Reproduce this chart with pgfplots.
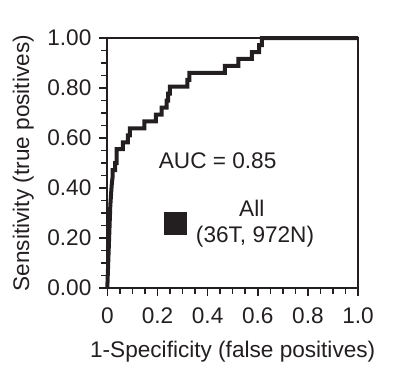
\documentclass[border=0pt]{standalone}
\usepackage{pgfplots}
\pgfplotsset{compat=1.18}
\usepackage{fontspec}
\setmainfont{Liberation Sans}
\definecolor{ink}{HTML}{231F20}
\begin{document}
\fontsize{11.3}{13.5}\selectfont
\begin{tikzpicture}
\begin{axis}[
  scale only axis,
  width=125.4pt, height=124.9pt,
  xmin=0, xmax=1, ymin=0, ymax=1,
  axis line style={ink, line width=0.8pt},
  every tick/.style={ink, line width=0.75pt},
  tick align=outside,
  xtick pos=bottom, ytick pos=left,
  xtick={0,0.2,0.4,0.6,0.8,1},
  xticklabels={0,0.2,0.4,0.6,0.8,1.0},
  minor xtick={0.05,0.1,...,0.96},
  ytick={0,0.2,0.4,0.6,0.8,1},
  minor ytick={0.05,0.1,...,0.96},
  major tick length=4pt,
  minor tick length=3pt,
  /pgf/number format/assume math mode=true,
  yticklabel style={/pgf/number format/fixed, /pgf/number format/fixed zerofill, /pgf/number format/precision=2, text=ink},
  xticklabel style={text=ink, yshift=-2pt},
  xlabel={1-Specificity (false positives)},
  ylabel={Sensitivity (true positives)},
  xlabel style={text=ink, yshift=-1pt},
  ylabel style={text=ink, yshift=-1pt},
  clip=false,
]
\addplot[ink, line width=2pt, line join=miter] coordinates {
(0,0) (0.004,0.11) (0.008,0.22) (0.012,0.33) (0.016,0.39) (0.018,0.417)
(0.021,0.444) (0.021,0.472) (0.031,0.472) (0.031,0.5) (0.037,0.5)
(0.037,0.556) (0.062,0.556) (0.062,0.583) (0.082,0.583) (0.082,0.611)
(0.09,0.611) (0.09,0.639) (0.148,0.639) (0.148,0.667) (0.194,0.667)
(0.194,0.694) (0.217,0.694) (0.217,0.722) (0.237,0.722) (0.237,0.75)
(0.243,0.75) (0.243,0.778) (0.25,0.778) (0.25,0.806) (0.319,0.806)
(0.319,0.833) (0.327,0.833) (0.327,0.861) (0.469,0.861) (0.469,0.889)
(0.523,0.889) (0.523,0.917) (0.576,0.917) (0.576,0.944) (0.605,0.944)
(0.605,0.972) (0.616,0.972) (0.616,1) (1,1)
};
\addplot[only marks, mark=square*, mark size=5.5pt, mark options={fill=ink, draw=ink}] coordinates {(0.273,0.257)};
\node[text=ink] at (axis cs:0.44,0.51) {AUC = 0.85};
\node[text=ink] at (axis cs:0.576,0.32) {All};
\node[text=ink] at (axis cs:0.589,0.205) {(36T, 972N)};
\end{axis}
\pgfresetboundingbox
\path (-53.65pt,-44.5pt) rectangle (144.35pt,144pt);
\end{tikzpicture}
\end{document}
